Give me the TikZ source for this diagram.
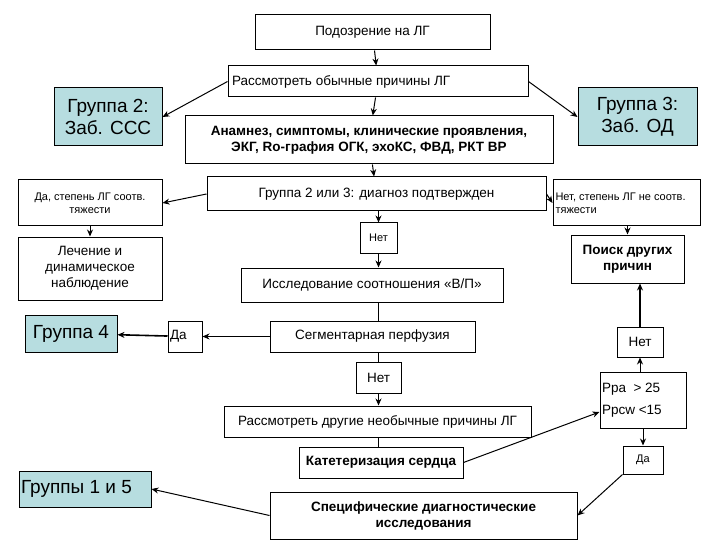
\documentclass[tikz,border=0pt]{standalone}
\usepackage{fontspec}
\setmainfont{Liberation Sans}
\usetikzlibrary{arrows.meta}
\definecolor{grpc}{RGB}{183,221,224}
\begin{document}
\begin{tikzpicture}[x=1pt,y=-1pt,
  box/.style={draw,line width=1pt,align=center,inner sep=1pt},
  grp/.style={box,fill=grpc,font=\fontsize{19}{22}\selectfont},
  n/.style={font=\fontsize{13.5}{16}\selectfont},
  s/.style={font=\fontsize{11}{13}\selectfont},
  arr/.style={-{Stealth[length=7pt,width=6pt]},line width=1pt},
  ln/.style={line width=1pt}]
\useasboundingbox (0,0) rectangle (720,540);
\newcommand{\bx}[6]{\node[#1,minimum width=#4-#2,minimum height=#5-#3] (#6) at ({(#2+#4)/2},{(#3+#5)/2})}
\bx{box,n}{255}{15}{490}{50}{top} {Подозрение на ЛГ};
\bx{box,n}{228}{66}{528}{97}{rass} {\makebox[292pt][l]{Рассмотреть обычные причины ЛГ}};
\bx{grp}{54}{88}{162}{146}{g2} {Группа 2:\\Заб. ССС};
\bx{grp}{578}{88}{697}{146}{g3} {Группа 3:\\Заб. ОД};
\bx{box,n}{185}{116}{553}{164}{anam} {\bfseries Анамнез, симптомы, клинические проявления,\\\bfseries ЭКГ, Ro-графия ОГК, эхоКС, ФВД, РКТ ВР};
\bx{box,n}{207}{177}{546}{211}{gr23} {Группа 2 или 3: диагноз подтвержден};
\bx{box,s}{18}{180}{162}{226}{da1} {Да, степень ЛГ соотв.\\тяжести};
\bx{box,s}{553}{180}{700}{226}{net1} {\makebox[142pt][l]{Нет, степень ЛГ не соотв.}\\\makebox[142pt][l]{тяжести}};
\bx{box,s}{360}{223}{397}{253}{net2} {Нет};
\bx{box,n}{18}{237}{162}{300}{lech} {Лечение и\\динамическое\\наблюдение};
\bx{box,n}{571}{235}{684}{283}{poisk} {\bfseries Поиск других\\\bfseries причин};
\bx{box,n}{241}{268}{503}{302}{issl} {Исследование соотношения «В/П»};
\bx{grp}{25}{315}{117}{352}{g4} {Группа 4};
\bx{box,n}{168}{321}{202}{352}{da2} {\makebox[30pt][l]{Да}};
\bx{box,n}{270}{321}{475}{352}{segm} {Сегментарная перфузия};
\bx{box,n}{617}{327}{663}{357}{net3} {Нет};
\bx{box,n}{356}{362}{401}{393}{net4} {Нет};
\bx{box,n}{600}{372}{686}{428}{ppa} {\makebox[82pt][l]{Ppa\ \ > 25}\\[6pt]\makebox[82pt][l]{Ppcw <15}};
\bx{box,n}{224}{406}{531}{437}{drug} {Рассмотреть другие необычные причины ЛГ};
\bx{box,n}{299}{447}{463}{478}{kat} {\bfseries Катетеризация сердца};
\bx{box,s}{623}{446}{663}{474}{da3} {Да};
\bx{grp}{19}{471}{151}{507}{g15} {\makebox[128pt][l]{Группы 1 и 5}};
\bx{box,n}{270}{492}{577}{539}{spec} {\bfseries Специфические диагностические\\\bfseries исследования};

\draw[arr] (top) -- (rass);
\draw[arr] (rass.west) -- (g2.east);
\draw[arr] (rass.east) -- (g3.west);
\draw[arr] (rass) -- (anam);
\draw[arr] (anam) -- (gr23);
\draw[arr] (gr23.west) -- (da1.east);
\draw[arr] (gr23.east) -- (net1.west);
\draw[arr] (gr23.south -| net2) -- (net2);
\draw[arr] (net2) -- (issl.north -| net2);
\draw[arr] (da1) -- (lech);
\draw[arr] (net1.south -| poisk) -- (poisk);
\draw[ln] (issl.south -| net2) -- (segm.north -| net2);
\draw[arr,line width=1.6pt] (segm) -- (da2);
\draw[arr,line width=1.6pt] (da2) -- (g4);
\draw[ln] (segm.south -| net4) -- (net4);
\draw[arr] (net4) -- (drug.north -| net4);
\draw[ln] (drug.south -| net4) -- (kat.north -| net4);
\draw[arr] (kat.east) -- ([yshift=-12pt]ppa.west);
\draw[arr] (ppa.north -| net3) -- (net3);
\draw[arr,line width=1.6pt] (net3) -- (poisk.south -| net3);
\draw[arr] (ppa.south -| da3) -- (da3);
\draw[arr] (da3.south west) -- (spec.east);
\draw[arr] (spec.west) -- (g15.east);
\end{tikzpicture}
\end{document}
